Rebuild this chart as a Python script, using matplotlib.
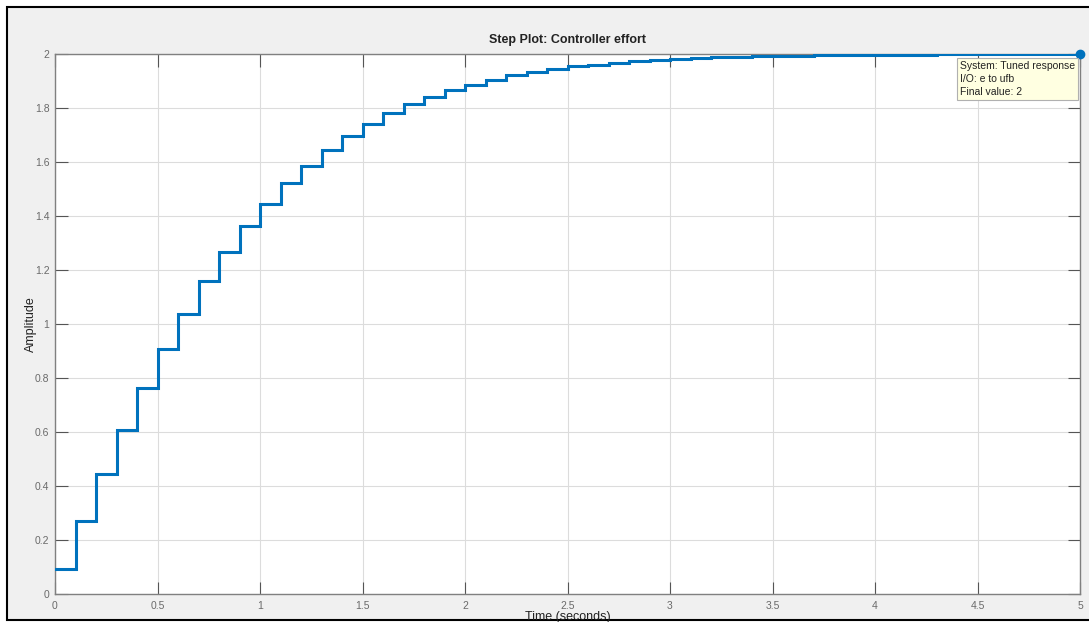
import matplotlib
matplotlib.use("Agg")
import matplotlib.pyplot as plt
from matplotlib.patches import Rectangle

# Sampled controller output (held over each 0.1 s sample period)
time_s = [round(0.1 * k, 1) for k in range(51)]
effort = [0.093, 0.270, 0.444, 0.607, 0.763, 0.907, 1.038, 1.158, 1.266, 1.362,
          1.446, 1.521, 1.587, 1.646, 1.697, 1.742, 1.781, 1.814, 1.842, 1.865,
          1.887, 1.905, 1.921, 1.933, 1.944, 1.954, 1.961, 1.968, 1.974, 1.979,
          1.982, 1.985, 1.988, 1.990, 1.991, 1.993, 1.994, 1.995, 1.996, 1.9965,
          1.997, 1.9975, 1.998, 1.9985, 1.9988, 1.999, 1.9992, 1.9994, 1.9995, 1.9996,
          2.0]
final_value = 2
x_ticks = [0, 0.5, 1, 1.5, 2, 2.5, 3, 3.5, 4, 4.5, 5]
x_tick_labels = ["0", "0.5", "1", "1.5", "2", "2.5", "3", "3.5", "4", "4.5", "5"]
y_ticks = [0, 0.2, 0.4, 0.6, 0.8, 1, 1.2, 1.4, 1.6, 1.8, 2]
y_tick_labels = ["0", "0.2", "0.4", "0.6", "0.8", "1", "1.2", "1.4", "1.6", "1.8", "2"]
tip_lines = ["System: Tuned response", "I/O: e to ufb", "Final value: 2"]

plt.rcParams["font.family"] = ["Liberation Sans Narrow", "Liberation Sans", "DejaVu Sans"]

W, H = 1089, 622
fig = plt.figure(figsize=(W / 100, H / 100), dpi=100)
fig.patch.set_facecolor("white")

# Window frame
frame = Rectangle((7 / W, 2 / H), 1.2, (H - 9) / H, transform=fig.transFigure,
                  facecolor="#f0f0f0", edgecolor="black", linewidth=1.5, zorder=-10)
fig.patches.append(frame)

ax = fig.add_axes([55 / W, (H - 594) / H, 1025 / W, 540 / H])
ax.set_facecolor("white")

ax.plot(time_s, effort, drawstyle="steps-post", color="#0072BD", linewidth=2.2,
        solid_joinstyle="miter", zorder=3)
ax.plot([time_s[-1]], [final_value], "o", color="#0072BD", markersize=6,
        clip_on=False, zorder=4)

ax.set_xlim(0, 5)
ax.set_ylim(0, 2)
ax.set_xticks(x_ticks, x_tick_labels)
ax.set_yticks(y_ticks, y_tick_labels)
ax.grid(True, color="#dcdcdc", linewidth=0.8)
ax.set_axisbelow(True)

for s in ax.spines.values():
    s.set_color("#808080")
    s.set_linewidth(1.0)

ax.tick_params(axis="both", direction="in", length=9, width=0.8, color="#555555",
               labelcolor="#6a6a6a", labelsize=7.5, top=True, right=True)
ax.tick_params(axis="x", pad=5)
ax.tick_params(axis="y", pad=4)

ax.set_title("Step Plot: Controller effort", fontsize=9, fontweight="bold",
             color="#222222", pad=8)
ax.set_xlabel("Time (seconds)", fontsize=9, color="#222222", labelpad=0)
ax.set_ylabel("Amplitude", fontsize=9, color="#222222")
ax.yaxis.set_label_coords(-18 / 1025, 0.5)

# Data tip for the final value
ax.annotate("\n".join(tip_lines), xy=(time_s[-1], final_value),
            xytext=(-3.5, -5.0), textcoords="offset points",
            ha="right", va="top", multialignment="left",
            fontsize=7.5, color="#222222", linespacing=1.38,
            bbox=dict(boxstyle="square,pad=0.3", facecolor="#ffffe1",
                      edgecolor="#b0b0b0", linewidth=0.8),
            annotation_clip=False, zorder=5)

fig.savefig("out.png", dpi=100)
